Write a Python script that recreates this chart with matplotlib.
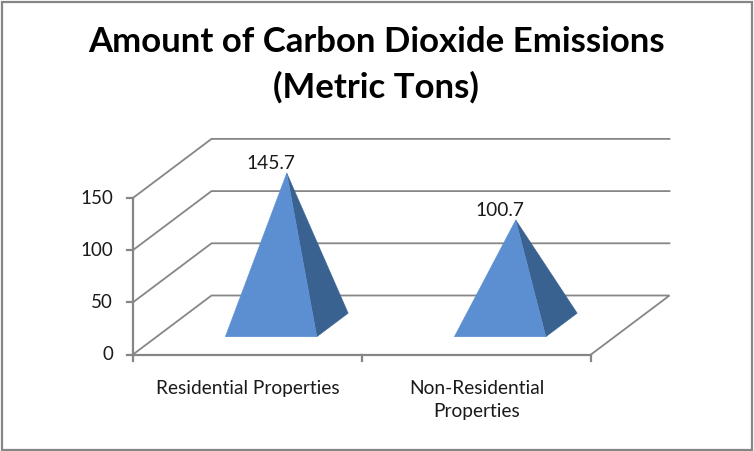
import matplotlib
matplotlib.use('Agg')
import matplotlib.pyplot as plt
from matplotlib.patches import Polygon, Rectangle

categories = ['Residential Properties', 'Non-Residential\nProperties']
values = [145.7, 100.7]
value_labels = ['145.7', '100.7']
y_ticks = [0, 50, 100, 150]
title = 'Amount of Carbon Dioxide Emissions\n(Metric Tons)'

GREY = '#868686'
FRONT = '#5b8fd1'
SIDE = '#3a6290'
TXT = '#1a1a1a'
plt.rcParams['font.family'] = ['Lato', 'DejaVu Sans']

# pixel geometry of the fake 3d box
X0, Y0 = 133.0, 354.5   # front bottom left
CAT_W = 229.0           # width of one category
DX, DY = 78.5, -59.0    # full depth offset
PX_PER_UNIT = 1.044


def proj(cat, val, depth):
    # cat in category units, val in data units, depth 0 (front) to 1 (back)
    return (X0 + cat * CAT_W + depth * DX, Y0 - val * PX_PER_UNIT + depth * DY)


fig = plt.figure(figsize=(7.54, 4.51), dpi=100)
ax = fig.add_axes([0, 0, 1, 1])
ax.set_xlim(0, 754)
ax.set_ylim(451, 0)
ax.axis('off')

# outer frame
ax.add_patch(Rectangle((1.5, 1.5), 750, 448.5, fill=False, ec=GREY, lw=1.6))

n = len(categories)

# gridlines: side wall and back wall
for v in y_ticks:
    x = [proj(0, v, 0)[0], proj(0, v, 1)[0], proj(n, v, 1)[0]]
    y = [proj(0, v, 0)[1], proj(0, v, 1)[1], proj(n, v, 1)[1]]
    if v == 0:
        # floor runs round to the front right corner
        x.append(proj(n, v, 0)[0])
        y.append(proj(n, v, 0)[1])
    ax.plot(x, y, color=GREY, lw=1.3, solid_joinstyle='miter')

# axes lines
ax.plot(*zip(proj(0, 0, 0), proj(0, y_ticks[-1], 0)), color=GREY, lw=1.6)
ax.plot(*zip(proj(0, 0, 0), proj(n, 0, 0)), color=GREY, lw=1.6)

# ticks and labels
for v in y_ticks:
    px, py = proj(0, v, 0)
    ax.plot([px - 6, px], [py, py], color=GREY, lw=1.6)
    ax.text(px - 20, py + 0.5, str(v), ha='right', va='center', fontsize=13.5, color=TXT)
for i in range(n + 1):
    px, py = proj(i, 0, 0)
    ax.plot([px, px], [py, py + 6], color=GREY, lw=1.6)

for i, lab in enumerate(categories):
    px, py = proj(i + 0.5, 0, 0)
    ax.text(px, 380, lab, ha='center', va='top', fontsize=13.8, color=TXT,
            linespacing=1.42)

# pyramids
half_w = 0.2
d_front, d_back = 0.30, 0.70
for i, v in enumerate(values):
    c = i + 0.5
    apex = proj(c, v, 0.5)
    fl = proj(c - half_w, 0, d_front)
    fr = proj(c + half_w, 0, d_front)
    br = proj(c + half_w, 0, d_back)
    ax.add_patch(Polygon([fr, br, apex], closed=True, fc=SIDE, ec=SIDE, lw=0.3, zorder=3))
    ax.add_patch(Polygon([fl, fr, apex], closed=True, fc=FRONT, ec=FRONT, lw=0.3, zorder=3))
    ax.text(apex[0] - 16, apex[1] - 1, value_labels[i], ha='center', va='bottom',
            fontsize=13.8, color=TXT, zorder=4)

ax.text(376, 65, title, ha='center', va='center', fontsize=25, fontweight='bold',
        color='black', linespacing=1.47)

fig.savefig('out.png', dpi=100)
